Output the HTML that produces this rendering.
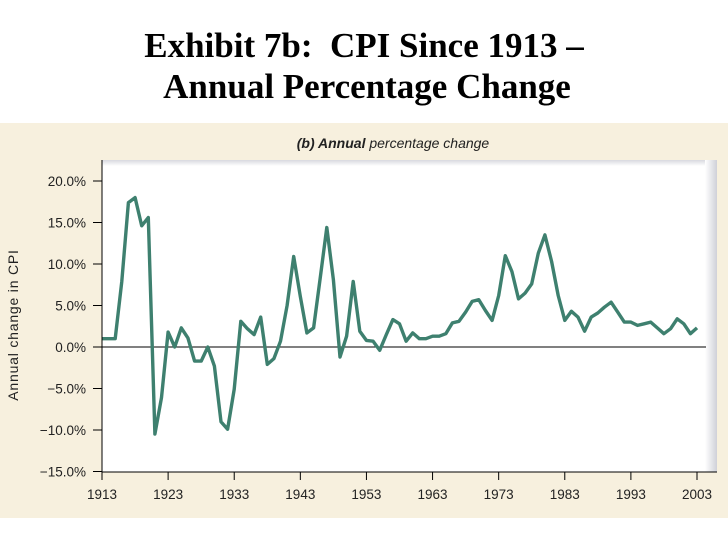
<!DOCTYPE html>
<html><head><meta charset="utf-8"><style>
body{margin:0;width:728px;height:546px;background:#fff;overflow:hidden;font-family:"Liberation Sans",sans-serif}
</style></head><body>
<svg width="728" height="546" xmlns="http://www.w3.org/2000/svg">
<text x="364" y="57" text-anchor="middle" font-family="Liberation Serif" font-weight="bold" font-size="35" style="white-space:pre">Exhibit 7b:  CPI Since 1913 –</text>
<text x="367" y="98" text-anchor="middle" font-family="Liberation Serif" font-weight="bold" font-size="35">Annual Percentage Change</text>
<rect x="0" y="123" width="728" height="395" fill="#f7f0de"/>
<text x="393" y="148" text-anchor="middle" font-size="14" font-style="italic" fill="#222"><tspan font-weight="bold">(b) Annual</tspan> percentage change</text>
<defs><linearGradient id="sh" x1="0" x2="1"><stop offset="0" stop-color="#fff"/><stop offset="1" stop-color="#cfd0d8"/></linearGradient>
<linearGradient id="sht" x1="0" y1="0" x2="0" y2="1"><stop offset="0" stop-color="#d8d9df"/><stop offset="1" stop-color="#fff"/></linearGradient></defs>
<rect x="102" y="160" width="615" height="312" fill="#fff"/>
<rect x="102" y="160" width="615" height="6" fill="url(#sht)"/>
<rect x="705" y="160" width="12" height="312" fill="url(#sh)"/>
<g id="axes"></g>
<text transform="translate(18,325) rotate(-90)" text-anchor="middle" font-size="14" fill="#222" letter-spacing="0.8">Annual change in CPI</text>
</svg>
<script>
const years=[];for(let y=1913;y<=2003;y++)years.push(y);
const values=[1.0,1.0,1.0,7.9,17.4,18.0,14.6,15.6,-10.5,-6.1,1.8,0.0,2.3,1.1,-1.7,-1.7,0.0,-2.3,-9.0,-9.9,-5.1,3.1,2.2,1.5,3.6,-2.1,-1.4,0.7,5.0,10.9,6.1,1.7,2.3,8.3,14.4,8.1,-1.2,1.3,7.9,1.9,0.8,0.7,-0.4,1.5,3.3,2.8,0.7,1.7,1.0,1.0,1.3,1.3,1.6,2.9,3.1,4.2,5.5,5.7,4.4,3.2,6.2,11.0,9.1,5.8,6.5,7.6,11.3,13.5,10.3,6.2,3.2,4.3,3.6,1.9,3.6,4.1,4.8,5.4,4.2,3.0,3.0,2.6,2.8,3.0,2.3,1.6,2.2,3.4,2.8,1.6,2.3];
const yTicks=[20,15,10,5,0,-5,-10,-15];
const yTickLabels=["20.0%","15.0%","10.0%","5.0%","0.0%","\u22125.0%","\u221210.0%","\u221215.0%"];
const xTicks=[1913,1923,1933,1943,1953,1963,1973,1983,1993,2003];
const NS="http://www.w3.org/2000/svg";
const X=y=>102+(y-1913)*(697-102)/90;
const Y=v=>347-v*(347-181)/20;
const g=document.getElementById('axes');
function mk(t,a){const e=document.createElementNS(NS,t);for(const k in a)e.setAttribute(k,a[k]);g.appendChild(e);return e;}
let z=mk('line',{x1:102,x2:706,y1:Y(0),y2:Y(0),stroke:'#000','stroke-width':1});


let d=values.map((v,i)=>(i?'L':'M')+X(years[i]).toFixed(1)+','+Y(v).toFixed(1)).join('');
let p=mk('path',{d:d,fill:'none',stroke:'#3e806f','stroke-width':3.4,'stroke-linejoin':'round'});


let ya=mk('line',{x1:102,x2:102,y1:160,y2:472,stroke:'#000','stroke-width':1});


let xa=mk('line',{x1:102,x2:717,y1:472,y2:472,stroke:'#000','stroke-width':1});


yTicks.forEach((v,i)=>{
 mk('line',{x1:93,x2:102,y1:Y(v),y2:Y(v),stroke:'#000'});
 let t=mk('text',{x:86,y:Y(v)+5,'text-anchor':'end','font-size':13.5,fill:'#222'});
 t.textContent=yTickLabels[i];
 
 
});
xTicks.forEach(v=>{
 mk('line',{x1:X(v),x2:X(v),y1:472,y2:480,stroke:'#000'});
 let t=mk('text',{x:X(v),y:499,'text-anchor':'middle','font-size':13.5,fill:'#222'});
 t.textContent=v;
 
 
});
</script>
</body></html>
